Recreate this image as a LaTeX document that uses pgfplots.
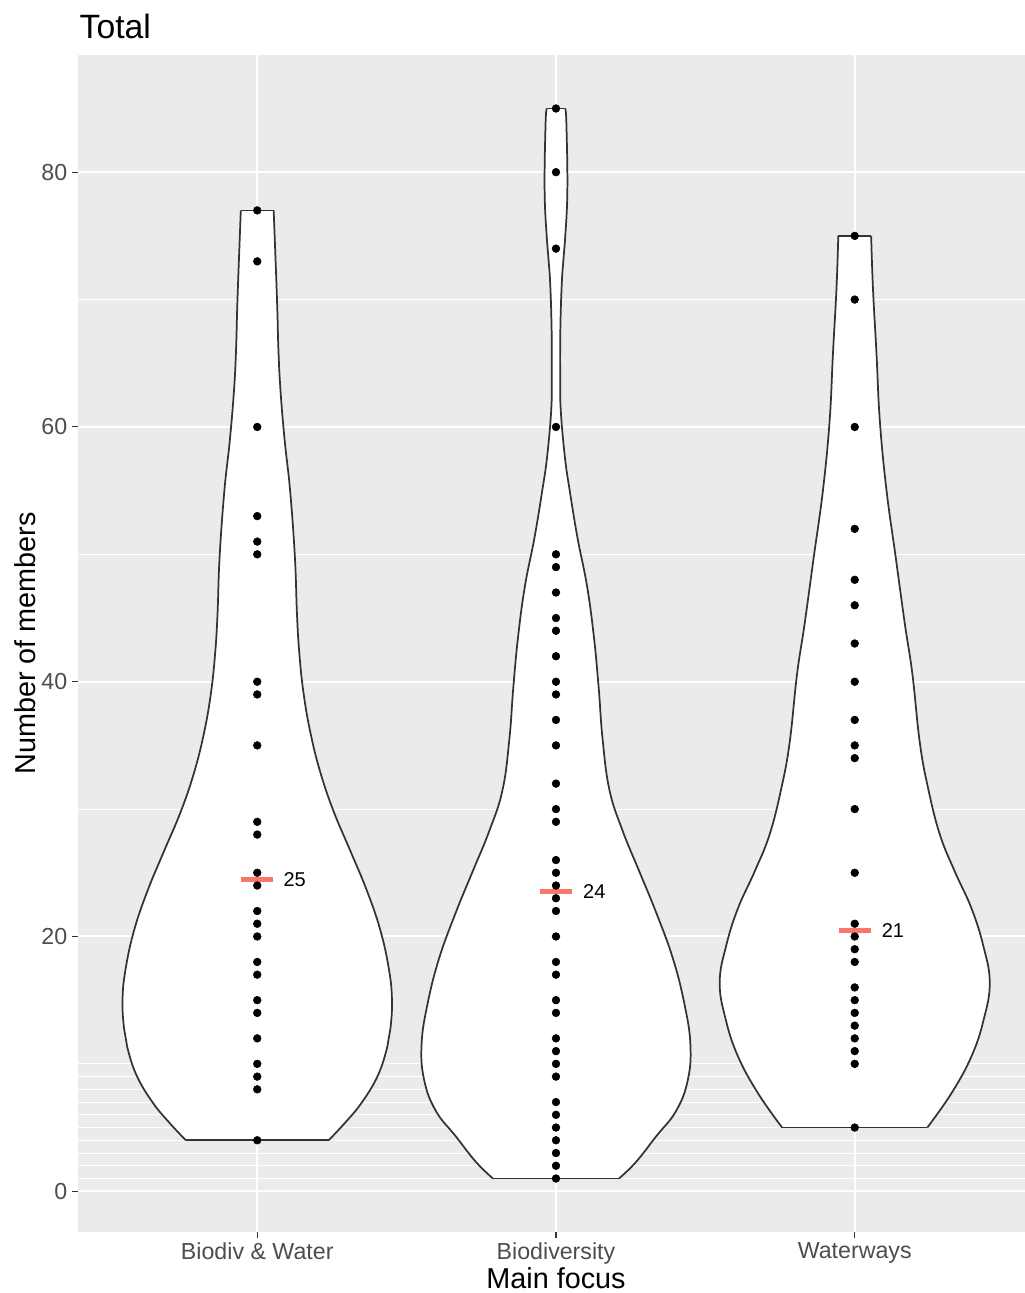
\documentclass[border=0pt]{standalone}
\usepackage{fontspec}
\setmainfont{Liberation Sans}
\usepackage{pgfplots}
\pgfplotsset{compat=1.18}
\usepackage{pgfplotstable}
\usepgfplotslibrary{fillbetween}
\definecolor{panel}{HTML}{EBEBEB}
\definecolor{grey20}{HTML}{333333}
\definecolor{grey30}{HTML}{4D4D4D}
\definecolor{medred}{HTML}{F8766D}

% violin outlines: y, half-width (in category units)
\pgfplotstableread{
y w
4.0 0.239
5.4 0.295
7.0 0.351
9.1 0.404
11.3 0.435
12.8 0.446
15.0 0.451
17.4 0.441
20.5 0.412
23.6 0.367
26.7 0.312
29.8 0.256
32.9 0.211
36.0 0.178
39.1 0.155
42.2 0.141
45.3 0.133
49.8 0.126
55.0 0.110
58.9 0.092
62.8 0.078
66.0 0.071
69.4 0.067
73.3 0.061
77.0 0.055
}\vA
\pgfplotstableread{
y w
1.0 0.211
2.3 0.268
4.3 0.335
6.3 0.402
8.7 0.441
11.5 0.450
14.7 0.430
18.3 0.391
21.9 0.335
25.1 0.279
28.3 0.223
31.5 0.179
35.5 0.156
39.5 0.143
43.5 0.127
47.5 0.104
51.3 0.072
55.0 0.046
57.6 0.030
61.3 0.016
64.1 0.014
68.1 0.015
72.0 0.021
74.6 0.030
78.5 0.038
83.7 0.035
85.0 0.031
}\vB
\pgfplotstableread{
y w
5.0 0.243
7.7 0.324
10.6 0.391
13.5 0.432
16.4 0.452
19.3 0.430
22.2 0.391
25.1 0.335
28.0 0.285
31.6 0.246
35.2 0.218
40.6 0.193
44.5 0.168
49.8 0.137
55.1 0.106
60.5 0.084
65.7 0.073
70.9 0.061
75.0 0.055
}\vC

% individual points
\pgfplotstableread{
x y
1 77
1 73
1 60
1 53
1 51
1 50
1 40
1 39
1 35
1 29
1 28
1 25
1 24
1 22
1 21
1 20
1 18
1 17
1 15
1 14
1 12
1 10
1 9
1 8
1 4
2 85
2 80
2 74
2 60
2 50
2 49
2 47
2 45
2 44
2 42
2 40
2 39
2 37
2 35
2 32
2 30
2 29
2 26
2 25
2 24
2 23
2 22
2 20
2 18
2 17
2 15
2 14
2 12
2 11
2 10
2 9
2 7
2 6
2 5
2 4
2 3
2 2
2 1
3 75
3 70
3 60
3 52
3 48
3 46
3 43
3 40
3 37
3 35
3 34
3 30
3 25
3 21
3 20
3 19
3 18
3 16
3 15
3 14
3 13
3 12
3 11
3 10
3 5
}\pts

\begin{document}
\begin{tikzpicture}
\begin{axis}[
  width=710.25pt, height=882.75pt, scale only axis,
  xmin=0.4, xmax=3.57, ymin=-3.2, ymax=89.2,
  xtick={1,2,3},
  xticklabels={Biodiv \& Water, Biodiversity, Waterways},
  ytick={0,20,40,60,80},
  minor ytick={1,2,3,4,5,6,7,8,9,10,30,50,70},
  grid=both,
  major grid style={white, line width=1.5pt},
  minor grid style={white, line width=0.7pt},
  axis background/.style={fill=panel},
  axis line style={draw=none},
  tick align=outside, tick pos=left,
  major tick length=4.5pt, minor tick length=0pt,
  tick style={grey20, line width=0.8pt},
  /pgf/number format/assume math mode=true,
  ticklabel style={font=\fontsize{17.4}{20}\selectfont, text=grey30},
  xlabel={Main focus},
  ylabel={Number of members},
  label style={font=\fontsize{21.6}{25}\selectfont, text=black},
  xlabel style={at={(axis description cs:0.5048,-0.0484)}, anchor=base},
  ylabel style={at={(axis description cs:-0.0454,0.5)}, anchor=base},
  vline/.style={smooth, tension=0.7, grey20, line width=1.3pt},
  vflat/.style={grey20, line width=1.3pt},
]
% violin 1
\addplot[name path=L1, vline] table[x expr=1-\thisrow{w}, y=y] {\vA};
\addplot[name path=R1, vline] table[x expr=1+\thisrow{w}, y=y] {\vA};
\addplot[white] fill between[of=L1 and R1, reverse=true];
\addplot[vflat] coordinates {(0.761,4) (1.239,4)};
\addplot[vflat] coordinates {(0.945,77) (1.055,77)};
% violin 2
\addplot[name path=L2, vline] table[x expr=2-\thisrow{w}, y=y] {\vB};
\addplot[name path=R2, vline] table[x expr=2+\thisrow{w}, y=y] {\vB};
\addplot[white] fill between[of=L2 and R2, reverse=true];
\addplot[vflat] coordinates {(1.789,1) (2.211,1)};
\addplot[vflat] coordinates {(1.969,85) (2.031,85)};
% violin 3
\addplot[name path=L3, vline] table[x expr=3-\thisrow{w}, y=y] {\vC};
\addplot[name path=R3, vline] table[x expr=3+\thisrow{w}, y=y] {\vC};
\addplot[white] fill between[of=L3 and R3, reverse=true];
\addplot[vflat] coordinates {(2.757,5) (3.243,5)};
\addplot[vflat] coordinates {(2.945,75) (3.055,75)};
% points
\addplot[only marks, mark=*, mark size=2.9pt, mark options={fill=black, draw=black}] table[x=x, y=y] {\pts};
% medians
\addplot[medred, line width=3.75pt] coordinates {(0.946,24.5) (1.054,24.5)};
\addplot[medred, line width=3.75pt] coordinates {(1.946,23.5) (2.054,23.5)};
\addplot[medred, line width=3.75pt] coordinates {(2.946,20.5) (3.054,20.5)};
\node[anchor=west, font=\fontsize{15}{18}\selectfont, inner sep=0pt] at (axis cs:1.087,24.5) {25};
\node[anchor=west, font=\fontsize{15}{18}\selectfont, inner sep=0pt] at (axis cs:2.090,23.5) {24};
\node[anchor=west, font=\fontsize{15}{18}\selectfont, inner sep=0pt] at (axis cs:3.090,20.5) {21};
\end{axis}
\node[anchor=base west, font=\fontsize{25.3}{30}\selectfont, inner sep=0pt] at ([yshift=12.4pt, xshift=1pt]current axis.north west) {Total};
\pgfresetboundingbox
\path[use as bounding box] (-58.5pt,-45.75pt) rectangle (710.25pt,924pt);
\end{tikzpicture}
\end{document}
